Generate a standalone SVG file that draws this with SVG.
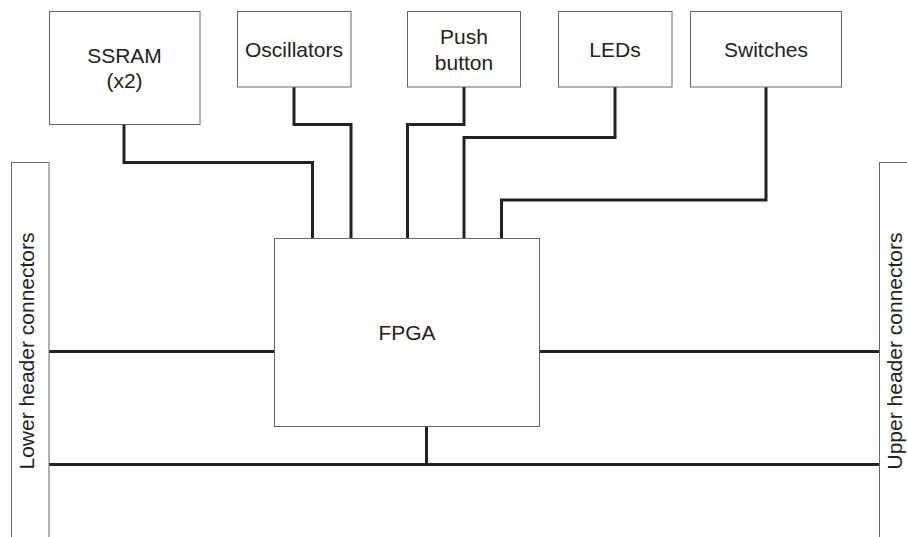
<svg xmlns="http://www.w3.org/2000/svg" width="907" height="537" viewBox="0 0 907 537">
<style>
.box{fill:#fff;stroke:#666;stroke-width:1}
.t{font-family:"Liberation Sans",Arial,sans-serif;font-size:21px;fill:#222;text-anchor:middle}
.w{fill:none;stroke:#222;stroke-width:3;stroke-linejoin:miter}
</style>
<rect width="907" height="537" fill="#fff"/>
<g id="connectors">
<polyline class="w" points="124,125 124,162.5 312.5,162.5 312.5,238"/>
<polyline class="w" points="294,87 294,124.5 351,124.5 351,238"/>
<polyline class="w" points="464,87 464,124.5 407.5,124.5 407.5,238"/>
<polyline class="w" points="615,87 615,137.5 464,137.5 464,238"/>
<polyline class="w" points="766,87 766,200 501.5,200 501.5,238"/>
<line class="w" x1="49" y1="351.5" x2="275" y2="351.5"/>
<line class="w" x1="539" y1="351.5" x2="879.5" y2="351.5"/>
<line class="w" x1="49" y1="464.5" x2="879.5" y2="464.5"/>
<line class="w" x1="426.5" y1="427" x2="426.5" y2="464.5"/>
</g>
<g id="ssram"><rect class="box" x="49.5" y="11.5" width="150.5" height="113"/>
<text class="t" x="124.5" y="62.5">SSRAM</text><text class="t" x="124.5" y="88">(x2)</text></g>
<g id="oscillators"><rect class="box" x="237.5" y="11.5" width="113.5" height="75.5"/>
<text class="t" x="294" y="57">Oscillators</text></g>
<g id="pushbutton"><rect class="box" x="407.5" y="11.5" width="113" height="75.5"/>
<text class="t" x="464" y="43.5">Push</text><text class="t" x="464" y="69.5">button</text></g>
<g id="leds"><rect class="box" x="558.5" y="11.5" width="113.5" height="75.5"/>
<text class="t" x="615" y="57">LEDs</text></g>
<g id="switches"><rect class="box" x="690.5" y="11.5" width="151" height="75.5"/>
<text class="t" x="766" y="57">Switches</text></g>
<g id="fpga"><rect class="box" x="274.5" y="238.5" width="265" height="188"/>
<text class="t" x="407" y="339.5">FPGA</text></g>
<g id="lower-header"><rect class="box" x="11.5" y="162.5" width="37.5" height="390"/>
<text class="t" transform="translate(33.5,351) rotate(-90)">Lower header connectors</text></g>
<g id="upper-header"><rect class="box" x="879.5" y="162.5" width="40" height="390"/>
<text class="t" transform="translate(901.5,351) rotate(-90)">Upper header connectors</text></g>
</svg>
